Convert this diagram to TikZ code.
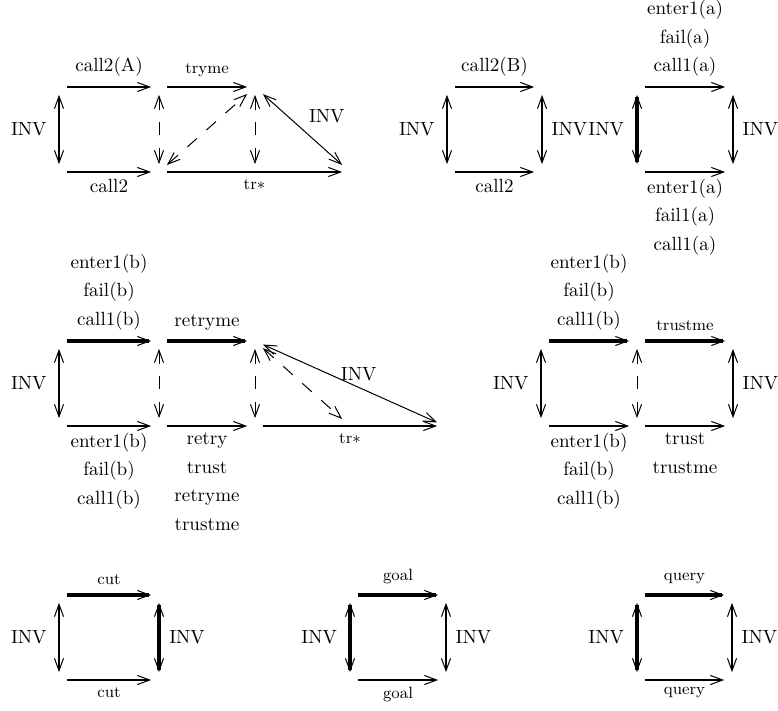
\documentclass[tikz,border=0pt]{standalone}
\usepackage{tikz}
\usetikzlibrary{arrows.meta,positioning}

\begin{document}
\begin{tikzpicture}[
    x=0.55pt, y=-0.55pt,
    >={Straight Barb[length=6.8pt, width=5pt, line width=0.55pt]},
    obj/.style={inner sep=0pt, minimum size=8.25pt},
    arr/.style={->, line width=1.1pt},
    heavy/.style={line width=1.7pt},
    inv/.style={<->, line width=1.1pt},
    dashedarr/.style={<->, line width=0.55pt, dash pattern=on 7pt off 7pt},
    slim/.style={<->, line width=0.55pt},
    lab/.style={inner sep=3.3pt, align=center, font=\fontsize{10.5}{15.7}\selectfont},
    sm/.style={inner sep=3.3pt, font=\fontsize{9}{11}\selectfont}
]
\useasboundingbox (0,0) rectangle (778,710);

% call2(A), tryme
\node[obj] (A1) at (59,87) {};
\node[obj] (A2) at (159,87) {};
\node[obj] (A3) at (255,87) {};
\node[obj] (A4) at (59,172) {};
\node[obj] (A5) at (159,172) {};
\node[obj] (A6) at (255,172) {};
\node[obj] (A7) at (350,172) {};
\draw[arr] (A1) -- (A2) node[midway, above=1.8pt, lab] {call2(A)};
\draw[arr] (A2) -- (A3) node[midway, above=1.8pt, sm] {tryme};
\draw[inv] (A1) -- (A4) node[midway, left=3pt, lab] {INV};
\draw[dashedarr] (A2) -- (A5);
\draw[dashedarr] (A3) -- (A6);
\draw[dashedarr] (A5) -- (A3);
\draw[slim] (A3) -- (A7) node[midway, above right, lab] {INV};
\draw[arr] (A4) -- (A5) node[midway, below, lab] {call2};
\draw[arr] (A5) -- (A7) node[midway, below, sm] {tr$*$};

% call2(B)
\node[obj] (B1) at (447,87) {};
\node[obj] (B2) at (542,87) {};
\node[obj] (B3) at (447,172) {};
\node[obj] (B4) at (542,172) {};
\draw[arr] (B1) -- (B2) node[midway, above=1.8pt, lab] {call2(B)};
\draw[inv] (B1) -- (B3) node[midway, left=3pt, lab] {INV};
\draw[inv] (B2) -- (B4) node[midway, right=1.5pt, lab] {INV};
\draw[arr] (B3) -- (B4) node[midway, below, lab] {call2};

% call1(a)
\node[obj] (C1) at (637,87) {};
\node[obj] (C2) at (733,87) {};
\node[obj] (C3) at (637,172) {};
\node[obj] (C4) at (733,172) {};
\draw[arr] (C1) -- (C2) node[midway, above=1.8pt, lab] {enter1(a)\\fail(a)\\call1(a)};
\draw[inv, heavy] (C1) -- (C3) node[midway, left=3pt, lab] {INV};
\draw[inv] (C2) -- (C4) node[midway, right=1.5pt, lab] {INV};
\draw[arr] (C3) -- (C4) node[midway, below, lab] {enter1(a)\\fail1(a)\\call1(a)};

% call1(b), retryme
\node[obj] (D1) at (59,341) {};
\node[obj] (D2) at (159,341) {};
\node[obj] (D3) at (255,341) {};
\node[obj] (D4) at (59,426) {};
\node[obj] (D5) at (159,426) {};
\node[obj] (D6) at (255,426) {};
\node[obj] (D7) at (445,426) {};
\node[obj] (D8) at (350,426) {};
\draw[arr, heavy] (D1) -- (D2) node[midway, above=1.8pt, lab] {enter1(b)\\fail(b)\\call1(b)};
\draw[arr, heavy] (D2) -- (D3) node[midway, above=1.8pt, lab] {retryme};
\draw[inv] (D1) -- (D4) node[midway, left=3pt, lab] {INV};
\draw[dashedarr] (D2) -- (D5);
\draw[dashedarr] (D3) -- (D6);
\draw[slim] (D3) -- (D7) node[pos=0.55, above, lab] {INV};
\draw[dashedarr] (D3) -- (D8);
\draw[arr] (D4) -- (D5) node[midway, below, lab] {enter1(b)\\fail(b)\\call1(b)};
\draw[arr] (D5) -- (D6) node[midway, below, lab] {retry\\trust\\retryme\\trustme};
\draw[arr] (D6) -- (D7) node[midway, below, sm] {tr$*$};

% call1(b), trustme
\node[obj] (E1) at (541,341) {};
\node[obj] (E2) at (637,341) {};
\node[obj] (E3) at (733,341) {};
\node[obj] (E4) at (541,426) {};
\node[obj] (E5) at (637,426) {};
\node[obj] (E6) at (733,426) {};
\draw[arr, heavy] (E1) -- (E2) node[midway, above=1.8pt, lab] {enter1(b)\\fail(b)\\call1(b)};
\draw[arr, heavy] (E2) -- (E3) node[midway, above=1.8pt, sm] {trustme};
\draw[inv] (E1) -- (E4) node[midway, left=3pt, lab] {INV};
\draw[dashedarr] (E2) -- (E5);
\draw[inv] (E3) -- (E6) node[midway, right=1.5pt, lab] {INV};
\draw[arr] (E4) -- (E5) node[midway, below, lab] {enter1(b)\\fail(b)\\call1(b)};
\draw[arr] (E5) -- (E6) node[midway, below, lab] {trust\\trustme};

% cut
\node[obj] (F1) at (59,595) {};
\node[obj] (F2) at (159,595) {};
\node[obj] (F3) at (59,680) {};
\node[obj] (F4) at (159,680) {};
\draw[arr, heavy] (F1) -- (F2) node[midway, above=1.8pt, sm] {cut};
\draw[inv] (F1) -- (F3) node[midway, left=3pt, lab] {INV};
\draw[inv, heavy] (F2) -- (F4) node[midway, right=1.5pt, lab] {INV};
\draw[arr] (F3) -- (F4) node[midway, below, sm] {cut};

% goal
\node[obj] (G1) at (350,595) {};
\node[obj] (G2) at (446,595) {};
\node[obj] (G3) at (350,680) {};
\node[obj] (G4) at (446,680) {};
\draw[arr, heavy] (G1) -- (G2) node[midway, above=1.8pt, sm] {goal};
\draw[inv, heavy] (G1) -- (G3) node[midway, left=3pt, lab] {INV};
\draw[inv] (G2) -- (G4) node[midway, right=1.5pt, lab] {INV};
\draw[arr] (G3) -- (G4) node[midway, below, sm] {goal};

% query
\node[obj] (H1) at (637,595) {};
\node[obj] (H2) at (732,595) {};
\node[obj] (H3) at (637,680) {};
\node[obj] (H4) at (732,680) {};
\draw[arr, heavy] (H1) -- (H2) node[midway, above=1.8pt, sm] {query};
\draw[inv, heavy] (H1) -- (H3) node[midway, left=3pt, lab] {INV};
\draw[inv] (H2) -- (H4) node[midway, right=1.5pt, lab] {INV};
\draw[arr] (H3) -- (H4) node[midway, below, sm] {query};

\end{tikzpicture}
\end{document}
